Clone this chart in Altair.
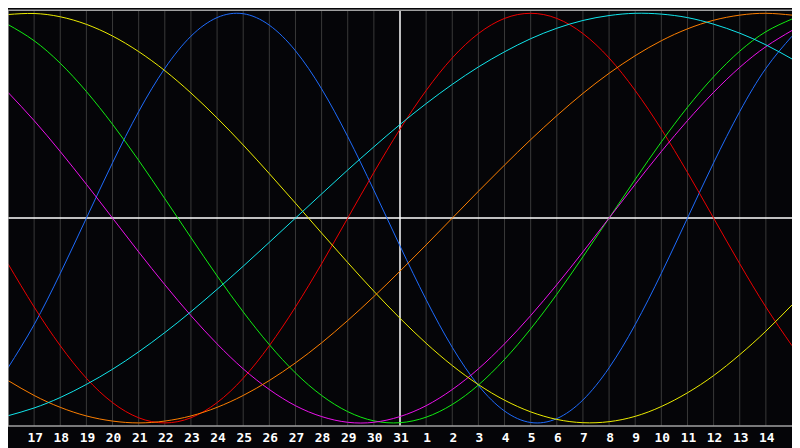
import altair as alt
import pandas as pd

W, H = 792, 420

# day index 0..30 (index 0 = the 16th, index 15 = the 31st, index 30 = the 15th)
day_idx = list(range(31))

blue = [-73.1, -52.0, -27.0, 0.0, 27.0, 52.0, 73.1, 88.8, 97.9, 99.8, 94.2, 81.7, 63.1, 39.8, 13.6,
        -13.6, -39.8, -63.1, -81.7, -94.2, -99.8, -97.9, -88.8, -73.1, -52.0, -27.0, 0.0, 27.0, 52.0,
        73.1, 88.8]
red = [-22.3, -43.4, -62.3, -78.2, -90.1, -97.5, -100.0, -97.5, -90.1, -78.2, -62.3, -43.4, -22.3,
       0.0, 22.3, 43.4, 62.3, 78.2, 90.1, 97.5, 100.0, 97.5, 90.1, 78.2, 62.3, 43.4, 22.3, 0.0,
       -22.3, -43.4, -62.3]
green = [94.5, 86.6, 75.6, 61.8, 45.8, 28.2, 9.5, -9.5, -28.2, -45.8, -61.8, -75.6, -86.6, -94.5,
         -99.0, -99.9, -97.2, -91.0, -81.5, -69.0, -54.1, -37.2, -18.9, 0.0, 18.9, 37.2, 54.1, 69.0,
         81.5, 91.0, 97.2]
magenta = [61.4, 47.6, 32.5, 16.5, 0.0, -16.5, -32.5, -47.6, -61.4, -73.6, -83.7, -91.6, -96.9,
           -99.7, -99.7, -96.9, -91.6, -83.7, -73.6, -61.4, -47.6, -32.5, -16.5, 0.0, 16.5, 32.5,
           47.6, 61.4, 73.6, 83.7, 91.6]
yellow = [99.4, 99.9, 98.3, 94.6, 88.9, 81.3, 72.0, 61.1, 48.9, 35.7, 21.7, 7.3, -7.3, -21.7, -35.7,
          -48.9, -61.1, -72.0, -81.3, -88.9, -94.6, -98.3, -99.9, -99.4, -96.8, -92.0, -85.3, -76.9,
          -66.7, -55.2, -42.4]
orange = [-79.3, -86.6, -92.4, -96.6, -99.1, -100.0, -99.1, -96.6, -92.4, -86.6, -79.3, -70.7, -60.9,
          -50.0, -38.3, -25.9, -13.1, 0.0, 13.1, 25.9, 38.3, 50.0, 60.9, 70.7, 79.3, 86.6, 92.4,
          96.6, 99.1, 100.0, 99.1]
cyan = [-96.5, -92.7, -87.6, -81.2, -73.8, -65.3, -55.9, -45.7, -34.8, -23.5, -11.8, 0.0, 11.8, 23.5,
        34.8, 45.7, 55.9, 65.3, 73.8, 81.2, 87.6, 92.7, 96.5, 98.9, 100.0, 99.6, 97.9, 94.7, 90.3,
        84.6, 77.7]

series_names = ["blue", "red", "green", "magenta", "yellow", "orange", "cyan"]
series_values = [blue, red, green, magenta, yellow, orange, cyan]
series_colors = ["#1e6cff", "#f00000", "#11ee11", "#ee11ee", "#eeee00", "#ff8000", "#11e8ee"]

tick_idx = list(range(1, 30))
tick_labels = ["17", "18", "19", "20", "21", "22", "23", "24", "25", "26", "27", "28", "29", "30", "31",
               "1", "2", "3", "4", "5", "6", "7", "8", "9", "10", "11", "12", "13", "14"]

rows = []
for name, values in zip(series_names, series_values):
    for i, v in zip(day_idx, values):
        rows.append({"idx": i, "value": v, "series": name})
df = pd.DataFrame(rows)

xs = alt.Scale(domain=[0, 30], nice=False, zero=False)
ys = alt.Scale(domain=[-101.5, 101.5], nice=False, zero=False)

grid = alt.Chart(pd.DataFrame({"idx": [i for i in tick_idx if i != 15]})).mark_rule(
    color="#3a3a3a", strokeWidth=1).encode(x=alt.X("idx:Q", scale=xs, axis=None))
cross_v = alt.Chart(pd.DataFrame({"idx": [15]})).mark_rule(color="white", strokeWidth=1.5).encode(
    x=alt.X("idx:Q", scale=xs, axis=None))
cross_h = alt.Chart(pd.DataFrame({"v": [0]})).mark_rule(color="white", strokeWidth=1.5).encode(
    y=alt.Y("v:Q", scale=ys, axis=None))
border_l = alt.Chart(pd.DataFrame({"idx": [0]})).mark_rule(color="#a0a0a0", strokeWidth=1.5).encode(
    x=alt.X("idx:Q", scale=xs, axis=None))
border_tb = alt.Chart(pd.DataFrame({"v": [-101.5, 101.5]})).mark_rule(color="#a0a0a0", strokeWidth=1.5).encode(
    y=alt.Y("v:Q", scale=ys, axis=None))

lines = alt.Chart(df).mark_line(interpolate="natural", strokeWidth=1).encode(
    x=alt.X("idx:Q", scale=xs, axis=None),
    y=alt.Y("value:Q", scale=ys, axis=None),
    color=alt.Color("series:N", scale=alt.Scale(domain=series_names, range=series_colors), legend=None),
    detail="series:N",
)

labels = alt.Chart(pd.DataFrame({"idx": tick_idx, "label": tick_labels})).mark_text(
    color="white", font="DejaVu Sans Mono", fontWeight="bold", fontSize=13,
    baseline="alphabetic", align="center", dx=1).encode(
    x=alt.X("idx:Q", scale=xs, axis=None), y=alt.value(H + 16), text="label:N")

chart = alt.layer(grid, cross_v, cross_h, lines, border_l, border_tb, labels).properties(
    width=W, height=H,
    autosize=alt.AutoSizeParams(type="none"),
    padding={"left": 0, "top": 0, "right": 0, "bottom": 20},
    background="#050508",
).configure_view(strokeWidth=0)

chart.save("out.html", embed_options={"renderer": "svg", "actions": False})
